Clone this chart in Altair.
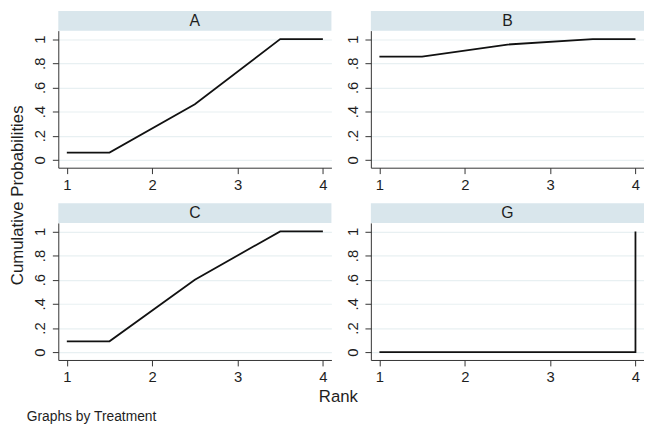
import altair as alt
import pandas as pd

# ---- data ----
treatments = ["A", "B", "C", "G"]
rank_A = [1, 1.5, 2.5, 3.5, 4]
prob_A = [0.06, 0.06, 0.46, 1.0, 1.0]
rank_B = [1, 1.5, 2.5, 3.5, 4]
prob_B = [0.855, 0.855, 0.955, 1.0, 1.0]
rank_C = [1, 1.5, 2.5, 3.5, 4]
prob_C = [0.09, 0.09, 0.60, 1.0, 1.0]
rank_G = [1, 4, 4]
prob_G = [0.0, 0.0, 1.0]
x_ticks = [1, 2, 3, 4]
y_ticks = [0, 0.2, 0.4, 0.6, 0.8, 1.0]
x_title = "Rank"
y_title = "Cumulative Probabilities"
note = "Graphs by Treatment"

series = {
    "A": (rank_A, prob_A),
    "B": (rank_B, prob_B),
    "C": (rank_C, prob_C),
    "G": (rank_G, prob_G),
}

W, H = 277, 139
FONT = "Liberation Sans"
STRIP = "#d9e6ec"
GRID = "#e8f0f2"
AXC = "#333333"
TXT = "#1e1e1e"

ylab_expr = ("datum.value == 0 || datum.value == 1 ? format(datum.value, 'd') : "
             "'.' + format(round(datum.value * 10), 'd')")


def panel(name, extra=None):
    ranks, probs = series[name]
    df = pd.DataFrame({"Rank": ranks, "Prob": probs, "ord": list(range(len(ranks)))})
    line = alt.Chart(df).mark_line(color="#111111", strokeWidth=1.8).encode(
        x=alt.X("Rank:Q",
                scale=alt.Scale(domain=[0.9, 4.1], nice=False, zero=False),
                axis=alt.Axis(values=x_ticks, title=None, grid=False, format="d",
                              tickSize=6, labelPadding=4, labelFontSize=15,
                              labelColor=TXT, domainColor=AXC, tickColor=AXC,
                              labelFont=FONT)),
        y=alt.Y("Prob:Q",
                scale=alt.Scale(domain=[-0.065, 1.07], nice=False, zero=False),
                axis=alt.Axis(values=y_ticks, title=None, grid=True, gridColor=GRID,
                              gridWidth=1.2, tickSize=6, labelPadding=5,
                              labelFontSize=15, labelAngle=270, labelAlign="center",
                              labelBaseline="bottom", labelExpr=ylab_expr,
                              labelColor=TXT, domainColor=AXC, tickColor=AXC,
                              labelFont=FONT)),
        order="ord:Q",
    )
    sdf = pd.DataFrame({"t": [name]})
    strip = alt.Chart(sdf).mark_rect(color=STRIP).encode(
        x=alt.value(0), x2=alt.value(W), y=alt.value(-20), y2=alt.value(0))
    lab = alt.Chart(sdf).mark_text(font=FONT, fontSize=16, color=TXT,
                                   baseline="middle", align="center").encode(
        x=alt.value(W / 2), y=alt.value(-10), text="t:N")
    layers = [strip, line, lab]
    if extra:
        layers += extra
    return alt.layer(*layers).properties(width=W, height=H)


ytl = alt.Chart(pd.DataFrame({"t": [y_title]})).mark_text(
    font=FONT, fontSize=17, angle=270, align="center", baseline="middle",
    color=TXT).encode(x=alt.value(-41), y=alt.value(-28), text="t:N")
xtl = alt.Chart(pd.DataFrame({"t": [x_title]})).mark_text(
    font=FONT, fontSize=17, align="center", baseline="middle",
    color=TXT).encode(x=alt.value(284), y=alt.value(H + 38), text="t:N")
ntl = alt.Chart(pd.DataFrame({"t": [note]})).mark_text(
    font=FONT, fontSize=14, align="left", baseline="middle",
    color=TXT).encode(x=alt.value(-32), y=alt.value(H + 58), text="t:N")

chart = alt.concat(
    panel("A"), panel("B"), panel("C", [ytl, xtl, ntl]), panel("G"),
    columns=2, spacing={"row": 56, "column": 40}, bounds="flush",
).properties(padding=0, background="white").configure_view(stroke=None)

chart.save("out.html", embed_options={"renderer": "svg", "actions": False})
